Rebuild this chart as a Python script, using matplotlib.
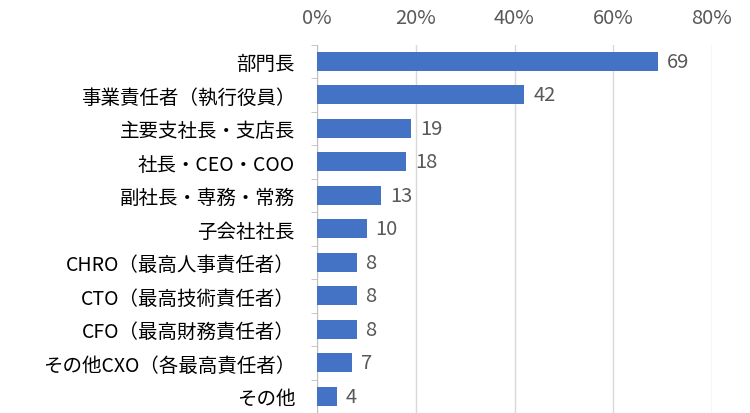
import matplotlib.pyplot as plt
import numpy as np

plt.rcParams['font.family'] = ['Noto Sans CJK JP', 'DejaVu Sans']

# data (percent)
labels = ["部門長", "事業責任者（執行役員）", "主要支社長・支店長", "社長・CEO・COO",
          "副社長・専務・常務", "子会社社長", "CHRO（最高人事責任者）",
          "CTO（最高技術責任者）", "CFO（最高財務責任者）",
          "その他CXO（各最高責任者）", "その他"]
values = [69, 42, 19, 18, 13, 10, 8, 8, 8, 7, 4]
xticks = [0, 20, 40, 60, 80]

fig = plt.figure(figsize=(7.5, 4.14), dpi=100)
ax = fig.add_axes([0.423, 0.0, 0.526, 0.89])

y = np.arange(len(labels))
ax.barh(y, values, height=0.57, color="#4472C4", zorder=3)
for yi, v in zip(y, values):
    ax.text(v + 1.8, yi, str(v), va="center", ha="left", fontsize=14.5, color="#595959")

ax.set_xlim(0, 80)
ax.set_ylim(len(labels) - 0.5, -0.5)
ax.set_yticks(y)
ax.set_yticklabels(labels, fontsize=14, color="#000000")
ax.set_yticks(np.arange(-0.5, len(labels), 1), minor=True)
ax.tick_params(axis="y", which="major", length=0, pad=16)
ax.tick_params(axis="y", which="minor", length=4, color="#bfbfbf", direction="out")

ax.xaxis.tick_top()
ax.set_xticks(xticks)
ax.set_xticklabels([f"{t}%" for t in xticks], fontsize=14.5, color="#595959")
ax.tick_params(axis="x", length=0, pad=12)
ax.grid(axis="x", color="#d9d9d9", linewidth=1, zorder=0)

for s in ["top", "right", "bottom"]:
    ax.spines[s].set_visible(False)
ax.spines["left"].set_color("#bfbfbf")

fig.savefig("out.png", dpi=100)
